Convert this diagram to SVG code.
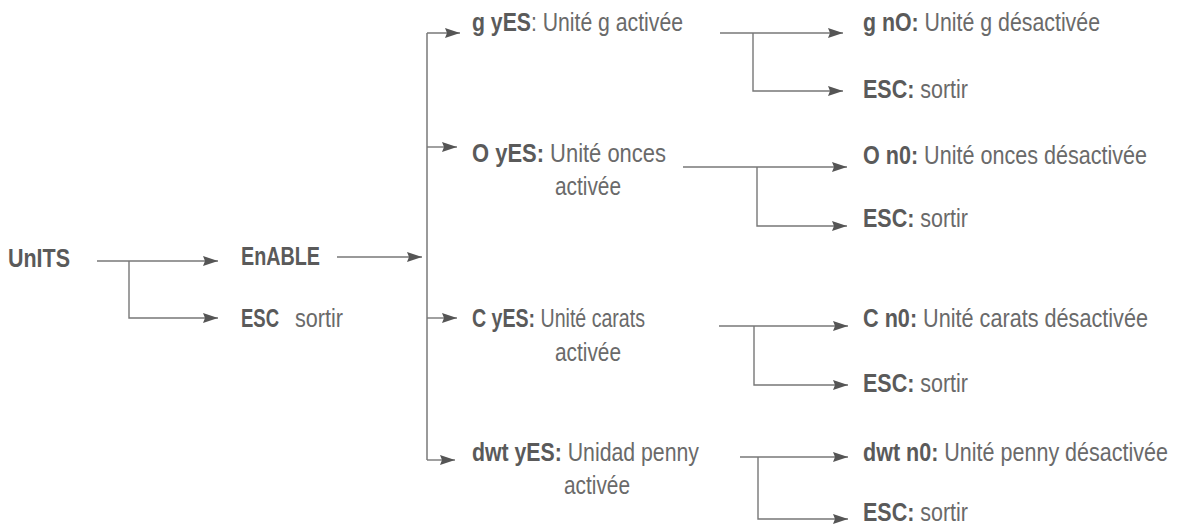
<svg xmlns="http://www.w3.org/2000/svg" width="1182" height="526" viewBox="0 0 1182 526">
  <defs>
    <style>
      text { font-family: "Liberation Sans Narrow", "Liberation Sans", Arial, sans-serif; font-size: 25px; fill: #6a6a6a; }
      .b { font-weight: bold; fill: #5a5a5a; }
      .ln { fill: none; stroke: #777777; stroke-width: 1.4; }
      .trunk { fill: none; stroke: #9a9a9a; stroke-width: 2; }
    </style>
    <marker id="ah" viewBox="0 0 15 10" refX="15" refY="5" markerWidth="15" markerHeight="10" markerUnits="userSpaceOnUse" orient="auto">
      <path d="M0,0 L15,5 L0,10 L2,5 z" fill="#555555"/>
    </marker>
  </defs>
  <rect width="1182" height="526" fill="#ffffff"/>

  <g id="connectors">
    <!-- UnITS branch -->
    <path class="ln" d="M97,261 H218" marker-end="url(#ah)"/>
    <path class="ln" d="M129,261 V318 H218" marker-end="url(#ah)"/>
    <!-- EnABLE to trunk -->
    <path class="ln" d="M337,257 H422" marker-end="url(#ah)"/>
    <!-- trunk -->
    <path class="trunk" d="M427,33 V460"/>
    <path class="ln" d="M427,33 H460" marker-end="url(#ah)"/>
    <path class="ln" d="M427,147 H457" marker-end="url(#ah)"/>
    <path class="ln" d="M427,318 H457" marker-end="url(#ah)"/>
    <path class="ln" d="M427,460 H455" marker-end="url(#ah)"/>
    <!-- g -->
    <path class="ln" d="M720,33 H843" marker-end="url(#ah)"/>
    <path class="ln" d="M753,33 V91 H843" marker-end="url(#ah)"/>
    <!-- O -->
    <path class="ln" d="M683,167 H847" marker-end="url(#ah)"/>
    <path class="ln" d="M757,167 V226 H847" marker-end="url(#ah)"/>
    <!-- C -->
    <path class="ln" d="M719,326 H848" marker-end="url(#ah)"/>
    <path class="ln" d="M754,326 V385 H848" marker-end="url(#ah)"/>
    <!-- dwt -->
    <path class="ln" d="M740,457 H848" marker-end="url(#ah)"/>
    <path class="ln" d="M758,457 V519 H848" marker-end="url(#ah)"/>
  </g>

  <g id="units"><text x="8" y="267" class="b" textLength="62" lengthAdjust="spacingAndGlyphs">UnITS</text></g>
  <g id="enable"><text x="241" y="265" class="b" textLength="79" lengthAdjust="spacingAndGlyphs">EnABLE</text></g>
  <g id="esc-main"><text x="241" y="327" class="b" textLength="38" lengthAdjust="spacingAndGlyphs">ESC</text><text x="295" y="327" textLength="48" lengthAdjust="spacingAndGlyphs">sortir</text></g>

  <g id="g-yes"><text x="472" y="31" textLength="211" lengthAdjust="spacingAndGlyphs"><tspan class="b">g yES</tspan>: Unité g activée</text></g>
  <g id="o-yes"><text x="472" y="162" textLength="194" lengthAdjust="spacingAndGlyphs"><tspan class="b">O yES:</tspan> Unité onces</text><text x="555" y="195" textLength="66" lengthAdjust="spacingAndGlyphs">activée</text></g>
  <g id="c-yes"><text x="472" y="327" textLength="173" lengthAdjust="spacingAndGlyphs"><tspan class="b">C yES:</tspan> Unité carats</text><text x="555" y="361" textLength="66" lengthAdjust="spacingAndGlyphs">activée</text></g>
  <g id="dwt-yes"><text x="472" y="461" textLength="227" lengthAdjust="spacingAndGlyphs"><tspan class="b">dwt yES:</tspan> Unidad penny</text><text x="564" y="494" textLength="66" lengthAdjust="spacingAndGlyphs">activée</text></g>

  <g id="g-no"><text x="863" y="31" textLength="237" lengthAdjust="spacingAndGlyphs"><tspan class="b">g nO:</tspan> Unité g désactivée</text></g>
  <g id="g-esc"><text x="863" y="98" textLength="105" lengthAdjust="spacingAndGlyphs"><tspan class="b">ESC:</tspan> sortir</text></g>
  <g id="o-no"><text x="863" y="164" textLength="284" lengthAdjust="spacingAndGlyphs"><tspan class="b">O n0:</tspan> Unité onces désactivée</text></g>
  <g id="o-esc"><text x="863" y="227" textLength="105" lengthAdjust="spacingAndGlyphs"><tspan class="b">ESC:</tspan> sortir</text></g>
  <g id="c-no"><text x="863" y="327" textLength="285" lengthAdjust="spacingAndGlyphs"><tspan class="b">C n0:</tspan> Unité carats désactivée</text></g>
  <g id="c-esc"><text x="863" y="392" textLength="105" lengthAdjust="spacingAndGlyphs"><tspan class="b">ESC:</tspan> sortir</text></g>
  <g id="dwt-no"><text x="863" y="461" textLength="305" lengthAdjust="spacingAndGlyphs"><tspan class="b">dwt n0:</tspan> Unité penny désactivée</text></g>
  <g id="dwt-esc"><text x="863" y="521" textLength="105" lengthAdjust="spacingAndGlyphs"><tspan class="b">ESC:</tspan> sortir</text></g>
</svg>
